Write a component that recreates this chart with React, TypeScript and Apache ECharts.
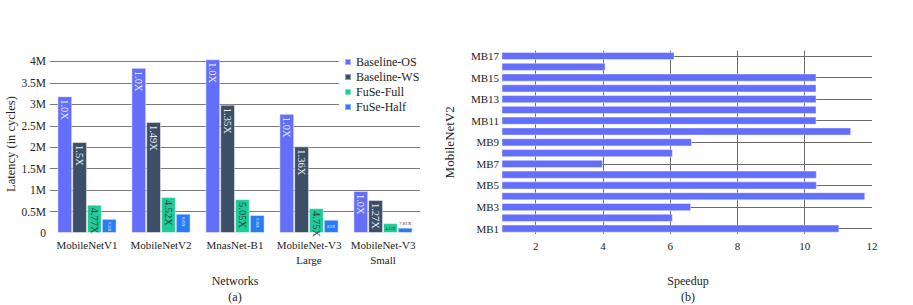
import React, { useEffect, useRef } from 'react';
import * as echarts from 'echarts';

const networks = ['MobileNetV1', 'MobileNetV2', 'MnasNet-B1', 'MobileNet-V3\nLarge', 'MobileNet-V3\nSmall'];
const seriesNames = ['Baseline-OS', 'Baseline-WS', 'FuSe-Full', 'FuSe-Half'];
const baselineOS = [3.19e6, 3.85e6, 4.05e6, 2.78e6, 0.98e6];
const baselineWS = [2.12e6, 2.59e6, 2.99e6, 2.02e6, 0.77e6];
const fuseFull = [0.66e6, 0.84e6, 0.79e6, 0.58e6, 0.23e6];
const fuseHalf = [0.33e6, 0.45e6, 0.42e6, 0.31e6, 0.125e6];
const speedupOS = ['1.0X', '1.0X', '1.0X', '1.0X', '1.0X'];
const speedupWS = ['1.5X', '1.49X', '1.35X', '1.36X', '1.27X'];
const speedupFull = ['4.77X', '4.52X', '5.05X', '4.75X', '4.15X'];
const speedupHalf = ['9.34X', '8.45X', '9.36X', '8.6X', '7.81X'];

const blocks = ['MB1', 'MB2', 'MB3', 'MB4', 'MB5', 'MB6', 'MB7', 'MB8', 'MB9', 'MB10', 'MB11', 'MB12', 'MB13', 'MB14', 'MB15', 'MB16', 'MB17'];
const blockSpeedup = [11.03, 6.08, 6.62, 11.8, 10.36, 10.36, 4.0, 6.08, 6.65, 11.38, 10.35, 10.35, 10.35, 10.35, 10.35, 4.08, 6.13];

const FONT = 'Liberation Serif';
const TXT = '#222';
const colors = ['#636efa', '#3c4f69', '#1fcb97', '#2a7bf6'];

export default function App() {
  const ref = useRef<HTMLDivElement>(null);
  useEffect(() => {
    if (!ref.current) return;
    const chart = echarts.init(ref.current, undefined, { renderer: 'svg' });

    const values = [baselineOS, baselineWS, fuseFull, fuseHalf];
    const texts = [speedupOS, speedupWS, speedupFull, speedupHalf];

    const labelFor = (s: number, c: number, text: string) => {
      const base: any = { show: true, fontFamily: FONT, formatter: text };
      const dark = s === 2;
      const col = dark ? '#2b3a4a' : 'rgba(255,255,255,0.92)';
      if (s === 3 && c === 4) {
        return { ...base, position: 'top', distance: 2, fontSize: 5, color: '#333' };
      }
      if ((s === 3 && c === 3) || (s === 2 && c === 4)) {
        return { ...base, position: 'inside', fontSize: 4, color: col };
      }
      return {
        ...base,
        position: 'insideTop',
        rotate: -90,
        align: 'left',
        verticalAlign: 'middle',
        distance: 3,
        fontSize: s === 3 ? 4 : 10.5,
        color: col,
      };
    };

    const leftSeries = values.map((arr, s) => ({
      name: seriesNames[s],
      type: 'bar',
      xAxisIndex: 0,
      yAxisIndex: 0,
      barGap: '0%',
      barCategoryGap: '20%',
      itemStyle: { color: colors[s], borderColor: 'rgba(255,255,255,0.45)', borderWidth: 1 },
      data: arr.map((v, c) => ({ value: v, label: labelFor(s, c, texts[s][c]) })),
    }));

    const option: any = {
      animation: false,
      textStyle: { fontFamily: FONT, color: TXT },
      legend: {
        data: seriesNames,
        orient: 'vertical',
        left: 339,
        top: 53,
        padding: [3, 6, 4, 5],
        backgroundColor: '#fff',
        itemWidth: 6,
        itemHeight: 6,
        itemGap: 3,
        icon: 'rect',
        textStyle: { fontFamily: FONT, fontSize: 12, color: TXT },
      },
      grid: [
        { left: 50, width: 370, top: 55, bottom: 72 },
        { left: 502, right: 41, top: 50.6, bottom: 71 },
      ],
      xAxis: [
        {
          type: 'category',
          gridIndex: 0,
          data: networks,
          axisLine: { show: false },
          axisTick: { show: false },
          axisLabel: { fontFamily: FONT, fontSize: 11, color: TXT, margin: 4, lineHeight: 15, interval: 0 },
        },
        {
          type: 'value',
          gridIndex: 1,
          min: 1,
          max: 12,
          axisLine: { show: false },
          axisTick: { show: false },
          axisLabel: { fontFamily: FONT, fontSize: 11, color: TXT, margin: 6, showMinLabel: false },
          splitLine: { show: true, showMinLine: false, showMaxLine: false, lineStyle: { color: '#6a6a6a', width: 1 } },
        },
      ],
      yAxis: [
        {
          type: 'value',
          gridIndex: 0,
          min: 0,
          max: 4.15e6,
          interval: 5e5,
          name: 'Latency (in cycles)',
          nameLocation: 'middle',
          nameGap: 32,
          nameTextStyle: { fontFamily: FONT, fontSize: 12.5, color: TXT },
          axisLine: { show: false },
          axisTick: { show: false },
          axisLabel: {
            fontFamily: FONT,
            fontSize: 11.5,
            color: TXT,
            margin: 4,
            showMaxLabel: false,
            formatter: (v: number) => (v === 0 ? '0' : v / 1e6 + 'M'),
          },
          splitLine: { show: true, showMinLine: false, showMaxLine: false, lineStyle: { color: '#7a7a7a', width: 1 } },
        },
        {
          type: 'category',
          gridIndex: 1,
          data: blocks,
          name: 'MobileNetV2',
          nameLocation: 'middle',
          nameGap: 46,
          nameTextStyle: { fontFamily: FONT, fontSize: 13, color: TXT },
          axisLine: { show: false },
          axisTick: { show: false },
          splitLine: { show: false },
          axisLabel: { fontFamily: FONT, fontSize: 11, color: TXT, margin: 3, interval: 1 },
        },
      ],
      series: [
        ...leftSeries,
        {
          name: 'speedup',
          type: 'bar',
          xAxisIndex: 1,
          yAxisIndex: 1,
          barCategoryGap: '24%',
          itemStyle: { color: '#636efa', borderColor: 'rgba(255,255,255,0.45)', borderWidth: 1 },
          data: blockSpeedup,
          markLine: {
            silent: true,
            z: 1,
            symbol: 'none',
            label: { show: false },
            lineStyle: { color: '#6a6a6a', width: 1, type: 'solid' },
            data: blocks.filter((_, i) => i % 2 === 0).map((b) => ({ yAxis: b })),
          },
        },
      ],
      graphic: [
        { type: 'text', x: 235, y: 281, style: { text: 'Networks', font: `12px "${FONT}"`, fill: TXT, align: 'center', verticalAlign: 'middle' } },
        { type: 'text', x: 235, y: 297, style: { text: '(a)', font: `12px "${FONT}"`, fill: TXT, align: 'center', verticalAlign: 'middle' } },
        { type: 'text', x: 688, y: 281, style: { text: 'Speedup', font: `12px "${FONT}"`, fill: TXT, align: 'center', verticalAlign: 'middle' } },
        { type: 'text', x: 688, y: 297, style: { text: '(b)', font: `12px "${FONT}"`, fill: TXT, align: 'center', verticalAlign: 'middle' } },
      ],
    };
    chart.setOption(option);
    return () => chart.dispose();
  }, []);
  return <div ref={ref} style={{ width: 913, height: 305, position: 'absolute', left: 0, top: 0 }} />;
}
